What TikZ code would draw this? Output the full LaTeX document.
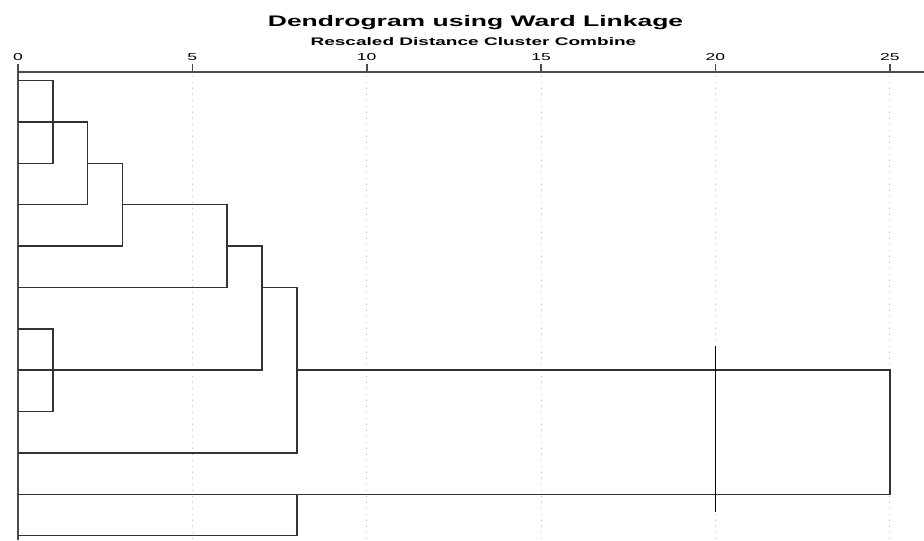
\documentclass[tikz,border=0pt]{standalone}
\usepackage{fontspec}
\setmainfont{Liberation Sans}

\tikzset{
  branch/.style={line width=1.5pt,black!80},
  axisline/.style={line width=1.6pt,black!70},
  gridline/.style={gray!45,line width=0.8pt,dash pattern=on 1pt off 5pt},
  ticklabel/.style={font=\fontsize{10}{12}\selectfont,xscale=1.75,inner sep=0pt},
}

\begin{document}
\begin{tikzpicture}[x=34.87pt,y=-41.37pt]
\useasboundingbox (-0.516,-0.946) rectangle (25.98,12.108);
% titles
\node[font=\bfseries\fontsize{15.3}{18}\selectfont,xscale=1.73,inner sep=0pt] (title) at (13.12,-0.39) {Dendrogram using Ward Linkage};
\node[font=\bfseries\fontsize{11}{13}\selectfont,xscale=1.73,inner sep=0pt] (subtitle) at (13.06,0.07) {Rescaled Distance Cluster Combine};
% axis
\foreach \v in {5,10,...,25}
  \draw[gridline] (\v,0.9) -- (\v,12.108);
\draw[axisline] (0,0.795) -- (25.98,0.795);
\foreach \v in {0,5,...,25} {
  \node[ticklabel] (tick\v) at (\v,0.43) {\v};
  \draw[axisline] (\v,0.795) -- (\v,0.61);
}
\draw[axisline] (0,0.61) -- (0,12.108);
% leaves
\foreach \i in {1,...,12}
  \coordinate (leaf\i) at (0,\i);
% merges
\draw[branch] (leaf1) -| (1,3) -- (leaf3);
\draw[branch] (leaf2) -| (2,4) -- (leaf4);
\draw[branch] (2,3) -| (3,5) -- (leaf5);
\draw[branch] (3,4) -| (6,6) -- (leaf6);
\draw[branch] (6,5) -| (7,8) -- (leaf8);
\draw[branch] (7,6) -| (8,10) -- (leaf10);
\draw[branch] (leaf7) -| (1,9) -- (leaf9);
\draw[branch] (8,8) -| (25,11) -- (leaf11);
\draw[branch] (8,11) -- (8,12) -- (leaf12);
% cut
\draw[line width=1.3pt] (20,7.42) -- (20,11.42);
\end{tikzpicture}
\end{document}
